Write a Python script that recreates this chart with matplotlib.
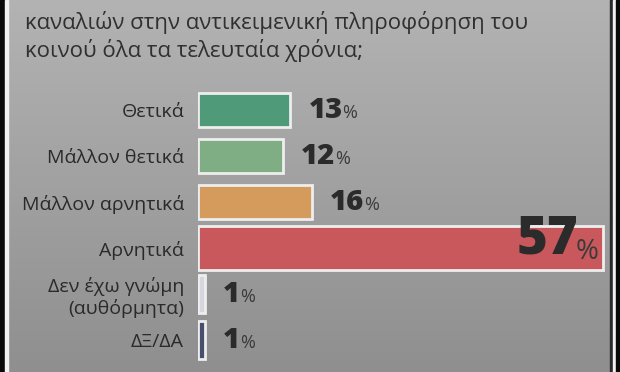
import numpy as np
import matplotlib
matplotlib.use("Agg")
import matplotlib.pyplot as plt
from matplotlib.patches import Rectangle

plt.rcParams['font.family'] = ['Open Sans', 'DejaVu Sans']

# data
categories = ['Θετικά', 'Μάλλον θετικά', 'Μάλλον αρνητικά', 'Αρνητικά',
              'Δεν έχω γνώμη\n(αυθόρμητα)', 'ΔΞ/ΔΑ']
values = [13, 12, 16, 57, 1, 1]
title_lines = ['καναλιών στην αντικειμενική πληροφόρηση του',
               'κοινού όλα τα τελευταία χρόνια;']

colors = ['#4f9a78', '#80ae84', '#d59b5c', '#c9585d', '#d6d6de', '#46506c']
bar_heights = [0.76, 0.76, 0.76, 0.95, 0.84, 0.84]
text_color = '#2a2a2a'

W, H = 620, 372
fig = plt.figure(figsize=(W / 100, H / 100), dpi=100)

# paper-ish gray background, lighter at the top
bg = fig.add_axes([0, 0, 1, 1], zorder=-5)
grad = np.linspace(0, 1, 256)[:, None]
bg.imshow(grad, aspect='auto', cmap=matplotlib.colors.LinearSegmentedColormap.from_list(
    'paper', ['#b3b3b3', '#8f8f8f']), extent=[0, 1, 0, 1])
bg.set_axis_off()

# frame edges of the scan
def px_rect(x0, x1, color):
    fig.patches.append(Rectangle((x0 / W, 0), (x1 - x0) / W, 1,
                                 transform=fig.transFigure, color=color, zorder=10))

px_rect(0, 5, '#0a0a0a')
px_rect(5, 8, '#f2f2f2')
px_rect(610, 613, '#2a2a2a')
px_rect(613, 616, '#f2f2f2')
px_rect(616, 620, '#0a0a0a')

# title
for i, line in enumerate(title_lines):
    fig.text(25 / W, 1 - (22 + 28 * i) / H, line, fontsize=16, color='#303030',
             ha='left', va='center')

# bar axes
ax = fig.add_axes([198 / W, 9 / H, 412 / W, 276 / H])
ax.patch.set_alpha(0)
y = np.arange(len(categories))
ax.barh(y, values, height=bar_heights, color=colors, edgecolor='#eeeeee', linewidth=2)
ax.set_xlim(0, 58)
ax.set_ylim(5.5, -0.5)
ax.set_yticks(y)
ax.set_yticklabels(categories, fontsize=14, color=text_color)
ax.tick_params(axis='y', length=0, pad=10)
ax.set_xticks([])
for s in ax.spines.values():
    s.set_visible(False)

fig.canvas.draw()
renderer = fig.canvas.get_renderer()
vmax = max(values)
for yi, v in zip(y, values):
    if v == vmax:
        pct = ax.annotate('%', (v, yi), xytext=(-4, -4), textcoords='offset pixels',
                          ha='right', va='center', fontsize=20, color='#3a3a3a')
        bb = pct.get_window_extent(renderer)
        ax.annotate(str(v), (v, yi), xytext=(-2 - bb.width, 8),
                    textcoords='offset pixels', ha='right', va='center',
                    fontsize=38, fontweight='heavy', color='#2b2b2b')
    else:
        num = ax.annotate(str(v), (v, yi), xytext=(18, 0), textcoords='offset pixels',
                          ha='left', va='center', fontsize=21, fontweight='heavy',
                          color='#2b2b2b')
        bb = num.get_window_extent(renderer)
        ax.annotate('%', (v, yi), xytext=(18 + bb.width, -3), textcoords='offset pixels',
                    ha='left', va='center', fontsize=13, color='#3a3a3a')

fig.savefig('out.png', dpi=100)
